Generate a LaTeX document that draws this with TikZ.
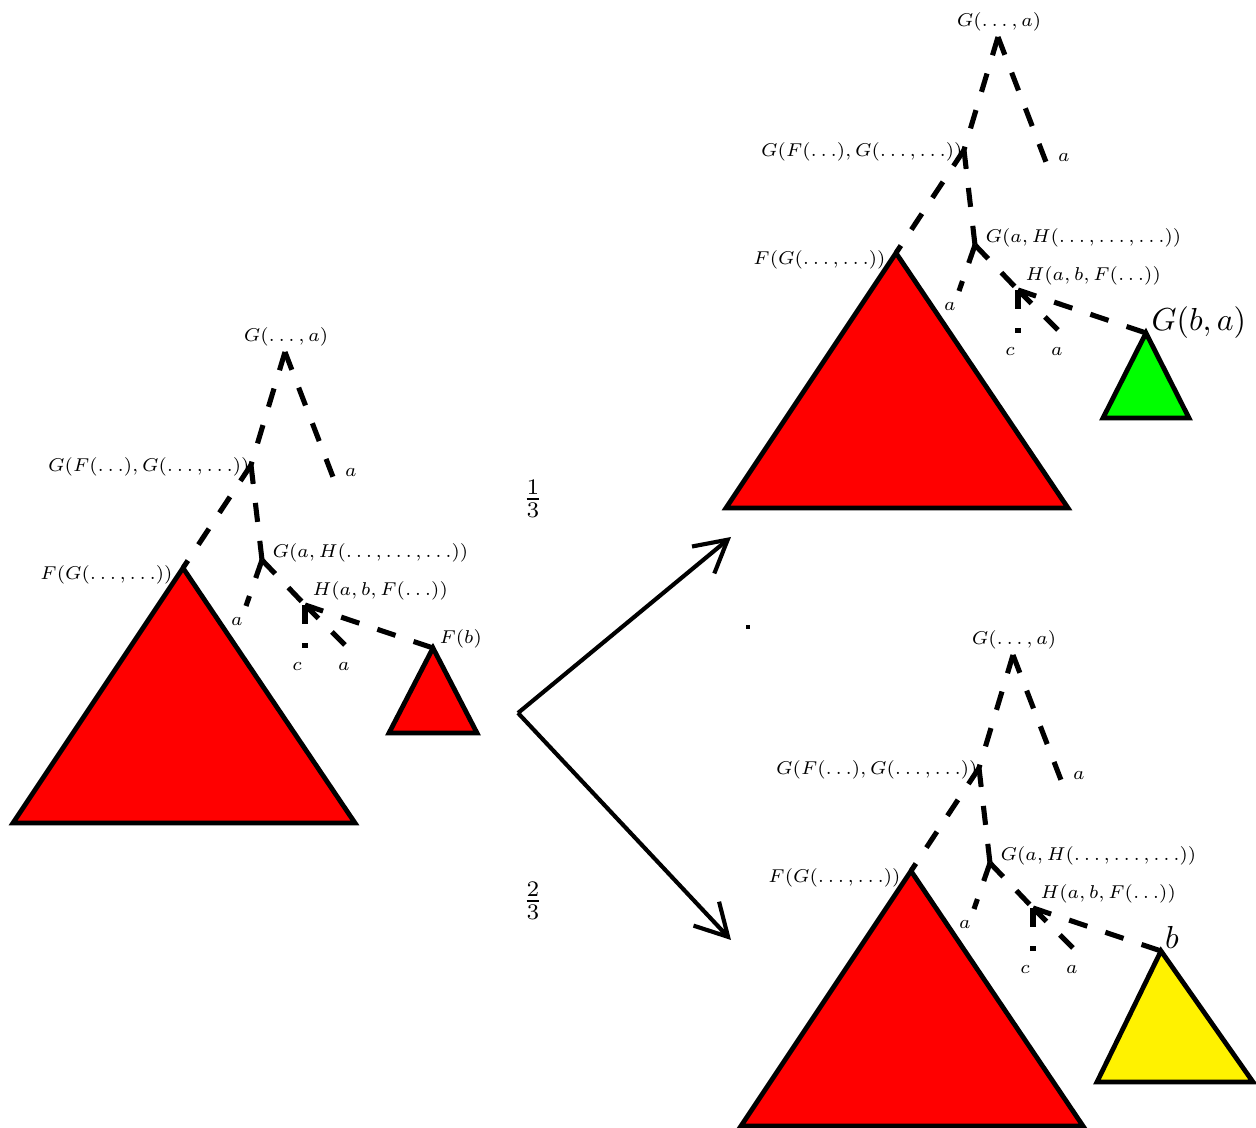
\documentclass[tikz,border=0pt]{standalone}
\usetikzlibrary{arrows.meta}
\begin{document}
\begin{tikzpicture}[x=0.01105cm,y=-0.01105cm,
  treeline/.style={line width=1.6pt,dash pattern=on 6pt off 6pt},
  tri/.style={draw=black,line width=1.5pt,line join=miter},
  lab/.style={font=\scriptsize,inner sep=0pt,scale=0.835},
  biglab/.style={inner sep=0pt},
  move/.style={line width=1.3pt,-{Straight Barb[length=10pt,width=11pt,line width=1.3pt]}}]
\useasboundingbox (0,0) rectangle (1256,1128);

\newcommand\drawtree{%
  \coordinate (root) at (285,352);
  \coordinate (ra) at (333,477);
  \coordinate (gf) at (251,465);
  \coordinate (fg) at (183,568);
  \coordinate (gah) at (262,560);
  \coordinate (ga) at (246,606);
  \coordinate (h) at (305,605);
  \coordinate (hc) at (305,648);
  \coordinate (ha) at (345,645);
  \coordinate (fb) at (433,648);
  \node[lab] (lroot) at (286,337) {$G(\ldots,a)$};
  \node[lab] (lra) at (351,473) {$a$};
  \node[lab,anchor=east] (lgf) at (250,467) {$G(F(\ldots),G(\ldots,\ldots))$};
  \node[lab,anchor=east] (lfg) at (173,575) {$F(G(\ldots,\ldots))$};
  \node[lab,anchor=west] (lgah) at (272,553) {$G(a,H(\ldots,\ldots,\ldots))$};
  \node[lab,anchor=west] (lh) at (312,591) {$H(a,b,F(\ldots))$};
  \node[lab] (lga) at (237,622) {$a$};
  \node[lab] (lhc) at (297,667) {$c$};
  \node[lab] (lha) at (344,667) {$a$};
  \draw[treeline] (root) -- (ra);
  \draw[treeline] (root) -- (gf);
  \draw[treeline] (gf) -- (fg);
  \draw[treeline] (gf) -- (gah);
  \draw[treeline] (gah) -- (ga);
  \draw[treeline] (gah) -- (h);
  \draw[treeline] (h) -- (hc);
  \draw[treeline] (h) -- (ha);
  \draw[treeline] (h) -- (fb);
  \draw[tri,fill=red] (183,568) -- (13,823) -- (355,823) -- cycle;
}

% left tree
\begin{scope}[name prefix=L-]
  \drawtree
  \draw[tri,fill=red] (433,648) -- (389,733) -- (477,733) -- cycle;
  \node[lab,anchor=west] (lfb) at (439,639) {$F(b)$};
\end{scope}

% upper right tree
\begin{scope}[shift={(713,-315)},name prefix=U-]
  \drawtree
  \draw[tri,fill=green] (433,648) -- (390,733) -- (476,733) -- cycle;
  \node[biglab,anchor=west] (lfb) at (438,638) {$G(b,a)$};
\end{scope}

% lower right tree
\begin{scope}[shift={(728,303)},name prefix=D-]
  \drawtree
  \draw[tri,fill=yellow] (433,648) -- (369,779) -- (525,779) -- cycle;
  \node[biglab] (lfb) at (444,634) {$b$};
\end{scope}

% transitions
\coordinate (split) at (518,713);
\coordinate (upend) at (731,537);
\coordinate (downend) at (731,940);
\draw[move] (split) -- (upend);
\draw[move] (split) -- (downend);
\node (p1) at (533,499) {$\frac{1}{3}$};
\node (p2) at (533,901) {$\frac{2}{3}$};
\fill (746,625) rectangle (750,629);
\end{tikzpicture}
\end{document}
